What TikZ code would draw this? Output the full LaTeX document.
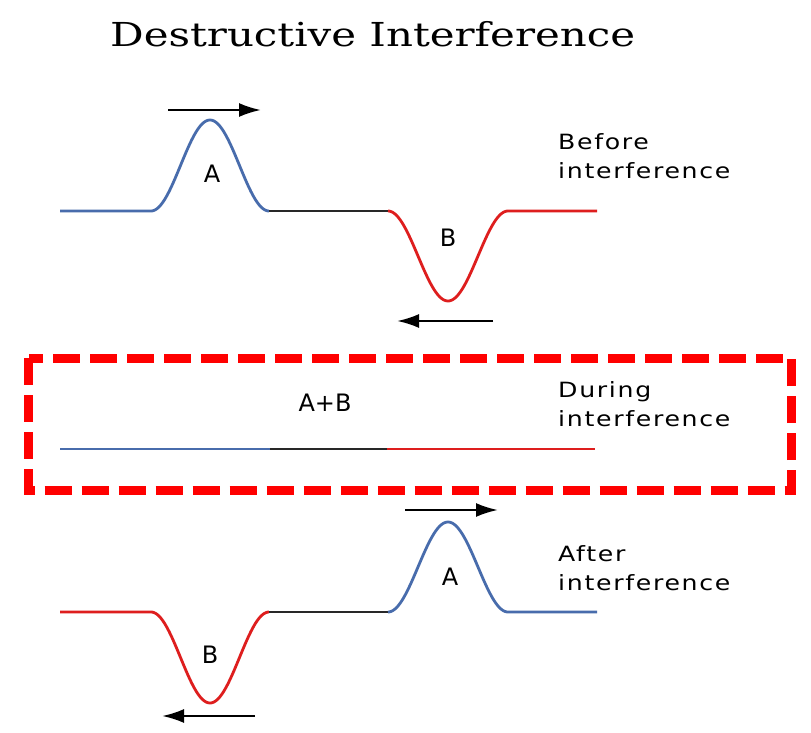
\documentclass[tikz,border=0pt]{standalone}
\usepackage{fontspec}
\setmainfont{DejaVu Sans}
\newfontfamily\titlefont[FakeStretch=1.27]{DejaVu Serif}
\newfontfamily\sidefont[FakeStretch=1.2,LetterSpace=8]{DejaVu Sans}
\usetikzlibrary{arrows.meta}
\definecolor{wblue}{RGB}{72,108,172}
\definecolor{wred}{RGB}{222,30,30}
\definecolor{wblack}{RGB}{40,40,40}
\definecolor{boxred}{RGB}{255,0,0}
\tikzset{
  wave/.style={line width=2.8pt, line cap=butt, line join=round},
  flat/.style={line width=2.4pt, line cap=butt},
  move/.style={line width=2.4pt, draw=black, -{Latex[length=22pt,width=14pt]}},
  lab/.style={font=\fontsize{24}{24}\selectfont, inner sep=0pt},
  side/.style={font=\sidefont\fontsize{21}{29}\selectfont, align=left, inner sep=0pt, anchor=north west},
}
\begin{document}
\begin{tikzpicture}[x=1pt,y=-1pt]
\useasboundingbox (0,0) rectangle (811,733);
\fill[white] (0,0) rectangle (811,733);
% title
\node[font=\titlefont\fontsize{33}{33}\selectfont, inner sep=0pt, anchor=base west] (title) at (110,47) {Destructive Interference};

% ---- before ----
\draw[wave, wblue] (60,211) -- (151,211) -- plot[domain=151:269, samples=80] (\x,{211-91*(1+cos(180*(\x-210)/59))/2});
\draw[wave, wblack] (269,211) -- (388,211);
\draw[wave, wred] (388,211) -- plot[domain=388:508, samples=80] (\x,{211+90*(1+cos(180*(\x-448)/60))/2}) -- (597,211);
\coordinate (a1s) at (168,110); \coordinate (a1e) at (261,110);
\draw[move] (a1s) -- (a1e);
\coordinate (b1s) at (493,321); \coordinate (b1e) at (397,321);
\draw[move] (b1s) -- (b1e);
\node[lab] (A1) at (212,174) {A};
\node[lab] (B1) at (448,238) {B};
\node[side] (before) at (558,133) {Before\\interference};

% ---- during ----
\draw[boxred, line width=9pt, dash pattern=on 27pt off 10pt] (28.5,358) rectangle (791.5,490);
\draw[flat, wblue] (60,449) -- (270,449);
\draw[flat, wblack] (270,449) -- (387,449);
\draw[flat, wred] (387,449) -- (595,449);
\node[lab] (AB) at (325,403) {A+B};
\node[side] (during) at (558,381) {During\\interference};

% ---- after ----
\draw[wave, wred] (60,612) -- (151,612) -- plot[domain=151:269, samples=80] (\x,{612+91*(1+cos(180*(\x-210)/59))/2});
\draw[wave, wblack] (269,612) -- (388,612);
\draw[wave, wblue] (388,612) -- plot[domain=388:508, samples=80] (\x,{612-90*(1+cos(180*(\x-448)/60))/2}) -- (597,612);
\coordinate (a2s) at (405,510); \coordinate (a2e) at (498,510);
\draw[move] (a2s) -- (a2e);
\coordinate (b2s) at (255,716); \coordinate (b2e) at (162,716);
\draw[move] (b2s) -- (b2e);
\node[lab] (A2) at (450,577) {A};
\node[lab] (B2) at (210,655) {B};
\node[side] (after) at (558,545) {After\\interference};
\end{tikzpicture}
\end{document}
